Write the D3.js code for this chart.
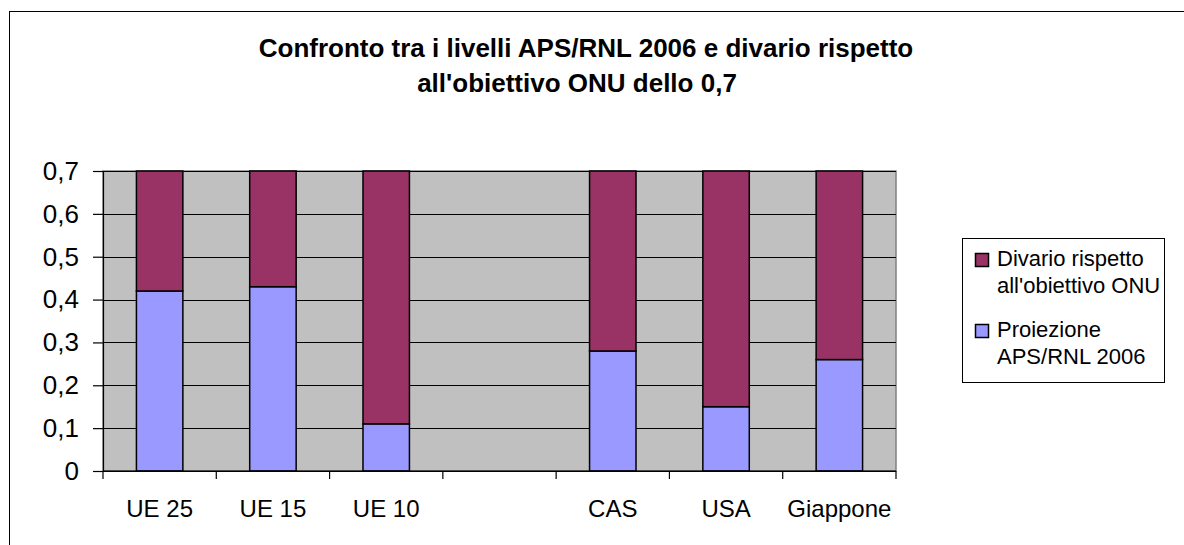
<!DOCTYPE html>
<html lang="it">
<head>
<meta charset="utf-8">
<title>Confronto APS/RNL 2006</title>
<script src="https://d3js.org/d3.v7.min.js"></script>
<style>
  body { margin: 0; background: #fff; }
  text { font-family: "Liberation Sans", Arial, sans-serif; fill: #000; }
</style>
</head>
<body>
<svg id="chart" width="1184" height="545"></svg>
<script>
// data
var categories = ["UE 25", "UE 15", "UE 10", "", "CAS", "USA", "Giappone"];
var proiezione = [0.42, 0.43, 0.11, null, 0.28, 0.15, 0.26];   // Proiezione APS/RNL 2006
var divario    = [0.28, 0.27, 0.59, null, 0.42, 0.55, 0.44];   // Divario rispetto all'obiettivo ONU
var yTicks = [0, 0.1, 0.2, 0.3, 0.4, 0.5, 0.6, 0.7];
var legendItems = [
  { lines: ["Divario rispetto", "all'obiettivo ONU"], color: "#993366" },
  { lines: ["Proiezione", "APS/RNL 2006"], color: "#9999FF" }
];

var svg = d3.select("#chart");

// outer chart frame (runs off the window on right / bottom)
svg.append("rect")
  .attr("x", 9.5).attr("y", 11.5)
  .attr("width", 1300).attr("height", 700)
  .attr("fill", "#fff").attr("stroke", "#000").attr("stroke-width", 1);

// title
var title = svg.append("g").attr("font-weight", "bold").attr("font-size", 26);
title.append("text").attr("x", 586).attr("y", 57).attr("text-anchor", "middle")
  .text("Confronto tra i livelli APS/RNL 2006 e divario rispetto");
title.append("text").attr("x", 577).attr("y", 92).attr("text-anchor", "middle")
  .text("all'obiettivo ONU dello 0,7");

// plot area
var plotL = 103, plotR = 896, plotT = 171, plotB = 471;

var x = d3.scaleBand().domain(categories).range([plotL, plotR])
  .paddingInner(0.59).paddingOuter(0.295);
var y = d3.scaleLinear().domain([0, 0.7]).range([plotB, plotT]);

svg.append("rect")
  .attr("x", plotL).attr("y", plotT)
  .attr("width", plotR - plotL).attr("height", plotB - plotT)
  .attr("fill", "#C0C0C0").attr("stroke", "#808080").attr("stroke-width", 1.5);

// gridlines
svg.append("g").selectAll("line").data(yTicks).join("line")
  .attr("x1", plotL).attr("x2", plotR)
  .attr("y1", function(d){ return Math.round(y(d)) + 0.5; })
  .attr("y2", function(d){ return Math.round(y(d)) + 0.5; })
  .attr("stroke", "#000").attr("stroke-width", 1);

// stacked bars
var rows = categories.map(function(c, i){
  return { cat: c, p: proiezione[i], d: divario[i] };
}).filter(function(r){ return r.p != null; });

var bars = svg.append("g").attr("stroke", "#000").attr("stroke-width", 1.5);
bars.selectAll("rect.p").data(rows).join("rect").attr("class", "p")
  .attr("x", function(r){ return x(r.cat); })
  .attr("width", x.bandwidth())
  .attr("y", function(r){ return y(r.p); })
  .attr("height", function(r){ return y(0) - y(r.p); })
  .attr("fill", "#9999FF");
bars.selectAll("rect.d").data(rows).join("rect").attr("class", "d")
  .attr("x", function(r){ return x(r.cat); })
  .attr("width", x.bandwidth())
  .attr("y", function(r){ return y(r.p + r.d); })
  .attr("height", function(r){ return y(r.p) - y(r.p + r.d); })
  .attr("fill", "#993366");

// y axis
var yAxis = d3.axisLeft(y).tickValues(yTicks).tickSize(10).tickPadding(14)
  .tickFormat(function(d){ return d === 0 ? "0" : d3.format(".1f")(d).replace(".", ","); });
var gy = svg.append("g").attr("transform", "translate(" + plotL + ",0)").call(yAxis);
gy.selectAll("line, path").attr("stroke", "#000").attr("stroke-width", 1.2);
gy.selectAll("text").attr("font-size", 26).attr("font-family", "Liberation Sans, Arial, sans-serif");

// x axis: ticks between categories
var gx = svg.append("g").attr("transform", "translate(0," + plotB + ")");
var step = x.step();
var bounds = d3.range(categories.length + 1).map(function(i){ return plotL + i * step; });
gx.append("line").attr("x1", plotL).attr("x2", plotR).attr("stroke", "#000").attr("stroke-width", 1.2);
gx.selectAll("line.tk").data(bounds).join("line").attr("class", "tk")
  .attr("x1", function(d){ return d; }).attr("x2", function(d){ return d; })
  .attr("y1", 0).attr("y2", 8).attr("stroke", "#000").attr("stroke-width", 1.2);
gx.selectAll("text").data(categories).join("text")
  .attr("x", function(c){ return x(c) + x.bandwidth() / 2; })
  .attr("y", 46).attr("text-anchor", "middle").attr("font-size", 24)
  .text(function(c){ return c; });

// legend
var lg = svg.append("g");
lg.append("rect").attr("x", 962.5).attr("y", 238.5).attr("width", 202).attr("height", 144)
  .attr("fill", "#fff").attr("stroke", "#000").attr("stroke-width", 1);
var item = lg.selectAll("g.item").data(legendItems).join("g").attr("class", "item")
  .attr("transform", function(d, i){ return "translate(0," + (i * 71) + ")"; });
item.append("rect").attr("x", 975.5).attr("y", 253.5).attr("width", 13).attr("height", 13)
  .attr("fill", function(d){ return d.color; }).attr("stroke", "#000").attr("stroke-width", 1.5);
item.each(function(d){
  var t = d3.select(this).append("text").attr("font-size", 22);
  t.selectAll("tspan").data(d.lines).join("tspan")
    .attr("x", 997).attr("y", function(l, j){ return 266 + j * 26.5; })
    .text(function(l){ return l; });
});
</script>
</body>
</html>
